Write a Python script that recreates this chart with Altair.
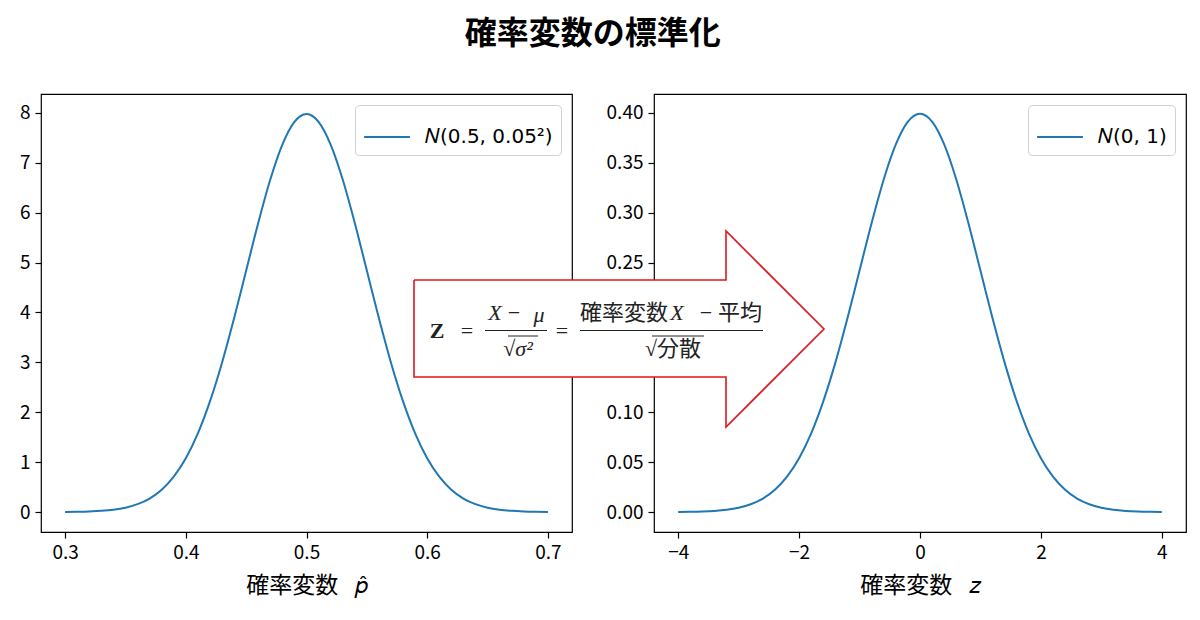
import altair as alt
import pandas as pd

# ---------------- data ----------------
# left panel: N(0.5, 0.05^2) density
p_vals = [0.30, 0.31, 0.32, 0.33, 0.34, 0.35, 0.36, 0.37, 0.38, 0.39, 0.40,
          0.41, 0.42, 0.43, 0.44, 0.45, 0.46, 0.47, 0.48, 0.49, 0.50,
          0.51, 0.52, 0.53, 0.54, 0.55, 0.56, 0.57, 0.58, 0.59, 0.60,
          0.61, 0.62, 0.63, 0.64, 0.65, 0.66, 0.67, 0.68, 0.69, 0.70]
p_dens = [0.0027, 0.0058, 0.0122, 0.0246, 0.0477, 0.0886, 0.1583, 0.2717, 0.4479, 0.7095, 1.0798,
          1.5790, 2.2184, 2.9945, 3.8837, 4.8394, 5.7938, 6.6645, 7.3654, 7.8209, 7.9788,
          7.8209, 7.3654, 6.6645, 5.7938, 4.8394, 3.8837, 2.9945, 2.2184, 1.5790, 1.0798,
          0.7095, 0.4479, 0.2717, 0.1583, 0.0886, 0.0477, 0.0246, 0.0122, 0.0058, 0.0027]

# right panel: N(0, 1) density
z_vals = [-4.0, -3.8, -3.6, -3.4, -3.2, -3.0, -2.8, -2.6, -2.4, -2.2, -2.0,
          -1.8, -1.6, -1.4, -1.2, -1.0, -0.8, -0.6, -0.4, -0.2, 0.0,
          0.2, 0.4, 0.6, 0.8, 1.0, 1.2, 1.4, 1.6, 1.8, 2.0,
          2.2, 2.4, 2.6, 2.8, 3.0, 3.2, 3.4, 3.6, 3.8, 4.0]
z_dens = [0.000134, 0.000292, 0.000612, 0.001232, 0.002384, 0.004432, 0.007915, 0.013583, 0.022395, 0.035475, 0.053991,
          0.078950, 0.110921, 0.149727, 0.194186, 0.241971, 0.289692, 0.333225, 0.368270, 0.391043, 0.398942,
          0.391043, 0.368270, 0.333225, 0.289692, 0.241971, 0.194186, 0.149727, 0.110921, 0.078950, 0.053991,
          0.035475, 0.022395, 0.013583, 0.007915, 0.004432, 0.002384, 0.001232, 0.000612, 0.000292, 0.000134]

left_label = "𝑁(0.5, 0.05²)"
right_label = "𝑁(0, 1)"

left_xticks = [0.3, 0.4, 0.5, 0.6, 0.7]
left_yticks = [0, 1, 2, 3, 4, 5, 6, 7, 8]
right_xticks = [-4, -2, 0, 2, 4]
right_yticks = [0.00, 0.05, 0.10, 0.15, 0.20, 0.25, 0.30, 0.35, 0.40]

TITLE = "確率変数の標準化"
LEFT_XTITLE = "確率変数\u2002 𝑝\u0302"
RIGHT_XTITLE = "確率変数\u2002 𝑧"

# ---------------- layout constants ----------------
LW, RW, H = 531, 532, 438
LX_DOM = [0.28, 0.72]
LY_DOM = [-0.399, 8.378]
RX_DOM = [-4.4, 4.4]
RY_DOM = [-0.0199, 0.4188]

BLUE = "#1f77b4"
RED = "#e0161b"
JP = "Noto Sans CJK JP"
SERIF = "Liberation Serif, DejaVu Serif, Noto Sans CJK JP"

# annotation placed in the right panel's coordinate space (pixel offsets from its frame)
def ax(px):
    return RX_DOM[0] + (px - 654) / RW * (RX_DOM[1] - RX_DOM[0])

def ay(py):
    return RY_DOM[1] - (py - 92) / H * (RY_DOM[1] - RY_DOM[0])

arrow_outline_px = [(414, 278), (726, 278), (726, 229), (824, 327),
                    (726, 425), (726, 375), (414, 375), (414, 278)]
arrow_fill_px = [(414, 375, 278), (726, 375, 278), (726.01, 425, 229), (824, 327, 327)]

# ---------------- left panel ----------------
left_df = pd.DataFrame({"x": p_vals, "y": p_dens, "s": [left_label] * len(p_vals)})
left = alt.Chart(left_df).mark_line(strokeWidth=2, interpolate="monotone").encode(
    x=alt.X("x:Q", scale=alt.Scale(domain=LX_DOM, nice=False, zero=False),
            axis=alt.Axis(values=left_xticks, format=".1f", title=LEFT_XTITLE)),
    y=alt.Y("y:Q", scale=alt.Scale(domain=LY_DOM, nice=False, zero=False),
            axis=alt.Axis(values=left_yticks, format="d", title=None)),
    color=alt.Color("s:N", scale=alt.Scale(domain=[left_label], range=[BLUE]),
                    legend=alt.Legend(title=None, orient="top-right")),
).properties(width=LW, height=H)

# ---------------- right panel ----------------
right_df = pd.DataFrame({"x": z_vals, "y": z_dens, "s": [right_label] * len(z_vals)})
xs = alt.Scale(domain=RX_DOM, nice=False, zero=False)
ys = alt.Scale(domain=RY_DOM, nice=False, zero=False)

right_line = alt.Chart(right_df).mark_line(strokeWidth=2, interpolate="monotone").encode(
    x=alt.X("x:Q", scale=xs,
            axis=alt.Axis(values=right_xticks, format="d", title=RIGHT_XTITLE)),
    y=alt.Y("y:Q", scale=ys,
            axis=alt.Axis(values=right_yticks, format=".2f", title=None)),
    color=alt.Color("s:N", scale=alt.Scale(domain=[right_label], range=[BLUE]),
                    legend=alt.Legend(title=None, orient="top-right")),
)

fill_df = pd.DataFrame({"x": [ax(a) for a, b, c in arrow_fill_px],
                        "y": [ay(b) for a, b, c in arrow_fill_px],
                        "y2": [ay(c) for a, b, c in arrow_fill_px]})
arrow_fill = alt.Chart(fill_df).mark_area(color="white", opacity=1, clip=False).encode(
    x=alt.X("x:Q", scale=xs), y=alt.Y("y:Q", scale=ys), y2="y2:Q")

outline_df = pd.DataFrame({"x": [ax(a) for a, b in arrow_outline_px],
                           "y": [ay(b) for a, b in arrow_outline_px],
                           "o": list(range(len(arrow_outline_px)))})
arrow_line = alt.Chart(outline_df).mark_line(color=RED, strokeWidth=1.6, clip=False).encode(
    x=alt.X("x:Q", scale=xs), y=alt.Y("y:Q", scale=ys), order="o:Q")

# fraction bars and radical overbars
bars_px = [(485, 547, 328.5), (580, 763, 328.5), (508, 538, 334), (652, 704, 334)]
bars_df = pd.DataFrame({"x": [ax(a) for a, b, c in bars_px],
                        "x2": [ax(b) for a, b, c in bars_px],
                        "y": [ay(c) for a, b, c in bars_px]})
bars = alt.Chart(bars_df).mark_rule(color="#222222", strokeWidth=1, clip=False).encode(
    x=alt.X("x:Q", scale=xs), x2="x2:Q", y=alt.Y("y:Q", scale=ys))

def text_layer(items, align="center", **kw):
    df = pd.DataFrame({"x": [ax(a) for a, b, t in items],
                       "y": [ay(b) for a, b, t in items],
                       "t": [t for a, b, t in items]})
    return alt.Chart(df).mark_text(baseline="middle", align=align, color="#222222",
                                   clip=False, **kw).encode(
        x=alt.X("x:Q", scale=xs), y=alt.Y("y:Q", scale=ys), text="t:N")

z_txt = text_layer([(437, 329, "Z")], font=SERIF, fontSize=22, fontWeight="bold")
eq_txt = text_layer([(467, 329, "="), (562, 329, "="), (514, 311, "−"), (706, 311, "−")],
                    font=SERIF, fontSize=22)
it_txt = text_layer([(495, 311, "X"), (539, 313, "μ"), (677, 311, "X"), (518, 347, "√σ²")],
                    font=SERIF, fontSize=22, fontStyle="italic")
jp_right = text_layer([(668, 311, "確率変数")], align="right", font=SERIF, fontSize=22)
jp_left = text_layer([(718, 311, "平均")], align="left", font=SERIF, fontSize=22)
jp_den = text_layer([(673, 347, "√分散")], font=SERIF, fontSize=22)

right = alt.layer(right_line, arrow_fill, arrow_line, bars, z_txt, eq_txt, it_txt,
                  jp_right, jp_left, jp_den).properties(width=RW, height=H)

chart = alt.hconcat(left, right, spacing=82, bounds="flush").resolve_scale(
    color="independent").properties(
    title=alt.TitleParams(TITLE, font=JP, fontSize=32, fontWeight="bold", anchor="middle",
                          color="black", offset=42, dx=-10),
    padding={"left": 10, "top": 10, "right": 5, "bottom": 5},
).configure_view(
    stroke="black", strokeWidth=1.2
).configure_axis(
    grid=False, domain=False, ticks=True, tickColor="black", tickSize=6, tickWidth=1.2,
    labelColor="black", labelFont=JP, labelFontSize=19, labelPadding=5,
    titleFont=JP, titleFontSize=23, titleFontWeight="normal", titleColor="black",
    titlePadding=12,
).configure_legend(
    labelFont="DejaVu Sans", labelFontSize=20, labelColor="black",
    symbolType="stroke", symbolSize=2100, symbolStrokeWidth=2,
    strokeColor="#d0d0d0", fillColor="white", cornerRadius=4, padding=8,
    offset=11, labelOffset=14,
)

chart.save("out.html", embed_options={"renderer": "svg", "actions": False})
